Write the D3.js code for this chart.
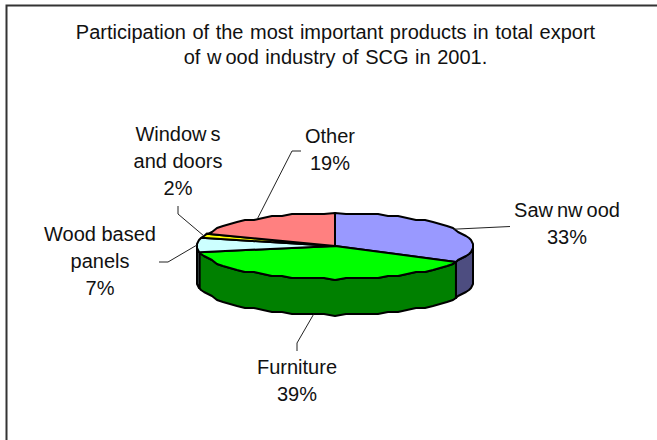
<!DOCTYPE html>
<html>
<head>
<meta charset="utf-8">
<style>
html,body{margin:0;padding:0;background:#fff;overflow:hidden}
svg{display:block}
text{font-family:"Liberation Sans",Arial,sans-serif;font-size:20px;fill:#111;text-anchor:middle}
text.title{word-spacing:1px}
</style>
<script src="https://cdn.jsdelivr.net/npm/d3@7/dist/d3.min.js"></script>
</head>
<body>
<script>
// Export shares; "|" marks a wide kerning gap inside a word.
const categories = ["Saw|nw|ood", "Furniture", "Wood based panels", "Window|s and doors", "Other"];
const shares = [33, 39, 7, 2, 19];
const topColors = ["#9999ff", "#00ff00", "#ccffff", "#ffff00", "#ff8080"];
const sideColors = ["#4d4d80", "#008000", "#668080", "#808000", "#804040"];
const titleLines = ["Participation of the most important products in total export", "of w|ood industry of SCG in 2001."];
const labelLines = [
  ["Saw|nw|ood", "33%"],
  ["Furniture", "39%"],
  ["Wood based", "panels", "7%"],
  ["Window|s", "and doors", "2%"],
  ["Other", "19%"]
];

const W = 657, H = 440;
const cx = 335, cy = 246, rx = 138, ry = 33, depth = 36;
const labelPos = [[567, 217], [297, 374], [100, 241], [178, 141], [330, 143]];
const lineGap = 27;
const elbows = [
  [[510, 226.5]],
  [[297, 343], [297, 351]],
  [[168, 262], [159, 262]],
  [[178, 214], [178, 206]],
  [[292, 151], [301, 151]]
];

const svg = d3.select("body").append("svg").attr("width", W).attr("height", H);

svg.append("path")
  .attr("d", `M6.5,${H}V5.5H${W}`)
  .attr("fill", "none").attr("stroke", "#333").attr("stroke-width", 2);

const pie = d3.pie().sort(null).value(d => d)(shares);
const topColor = d3.scaleOrdinal(categories, topColors);
const sideColor = d3.scaleOrdinal(categories, sideColors);

const at = (a, z = 0) => [cx + rx * Math.sin(a), cy - ry * Math.cos(a) + z];
const STEP = Math.PI / 40, SNAP = 2;
// Rim points snapped to a coarse vertical grid, so the rim reads as a scalloped low-resolution outline.
function rim(a0, a1, z = 0) {
  const pts = [at(a0, z)];
  const first = Math.ceil(a0 / STEP + 1e-6);
  for (let k = first; k * STEP < a1 - 1e-6; k++) {
    const p = at(k * STEP, z);
    pts.push([Math.round(p[0]), Math.round(p[1] / SNAP) * SNAP]);
  }
  pts.push(at(a1, z));
  return pts;
}
const line = d3.line();

const FRONT0 = Math.PI / 2, FRONT1 = Math.PI * 1.5;
const g = svg.append("g").attr("stroke", "#000").attr("stroke-width", 2).attr("stroke-linejoin", "round");

// Rim wall: only the part of each slice that faces the viewer.
g.selectAll("path.side")
  .data(pie.filter(d => d.endAngle > FRONT0 && d.startAngle < FRONT1))
  .join("path").attr("class", "side")
  .attr("fill", d => sideColor(categories[d.index]))
  .attr("d", d => {
    const a0 = Math.max(d.startAngle, FRONT0), a1 = Math.min(d.endAngle, FRONT1);
    return line([...rim(a0, a1), ...rim(a0, a1, depth).reverse()]) + "Z";
  });

// Top faces.
g.selectAll("path.top")
  .data(pie)
  .join("path").attr("class", "top")
  .attr("fill", d => topColor(categories[d.index]))
  .attr("d", d => line([[cx, cy], ...rim(d.startAngle, d.endAngle)]) + "Z");

// Leader lines from each slice's rim midpoint to its label.
svg.selectAll("path.leader")
  .data(pie)
  .join("path").attr("class", "leader")
  .attr("fill", "none").attr("stroke", "#222").attr("stroke-width", 1)
  .attr("d", d => {
    const mid = (d.startAngle + d.endAngle) / 2;
    const front = Math.abs(mid - Math.PI) < 1;
    return line([at(mid, front ? depth : 0), ...elbows[d.index]]);
  });

// Writes a line of text, turning "|" into a small positive gap between tspans.
function writeLine(sel, str) {
  str.split("|").forEach((part, i) => {
    sel.append("tspan").attr("dx", i ? 4 : 0).text(part);
  });
}

titleLines.forEach((t, i) => {
  svg.append("text").attr("class", "title").attr("x", 335.5).attr("y", 38.5 + i * 25.5).call(writeLine, t);
});

labelLines.forEach((lines, i) => {
  lines.forEach((t, j) => {
    svg.append("text").attr("class", "label")
      .attr("x", labelPos[i][0]).attr("y", labelPos[i][1] + j * lineGap)
      .call(writeLine, t);
  });
});
</script>
</body>
</html>
